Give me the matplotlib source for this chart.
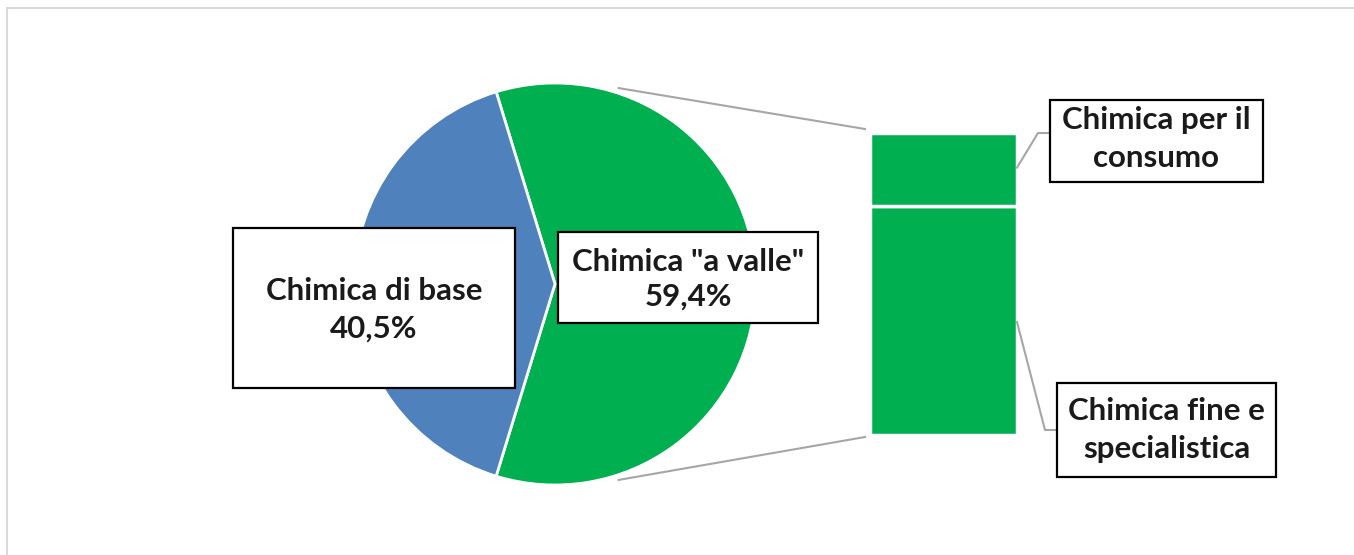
import matplotlib.pyplot as plt
from matplotlib.patches import Rectangle
import numpy as np

# pie slices (share of total, %)
pie_labels = ["Chimica \"a valle\"", "Chimica di base"]
pie_values = [59.4, 40.5]
pie_colors = ["#00B050", "#4F81BD"]

# breakdown of the "a valle" slice, stacked bottom -> top
bar_labels = ["Chimica fine e\nspecialistica", "Chimica per il\nconsumo"]
bar_values = [45.0, 14.4]
bar_color = "#00B050"

W, H = 1354, 555
FONT = "Lato"
LINE_GREY = "#A6A6A6"


def fmt_pct(v):
    return f"{v:.1f}%".replace(".", ",")


fig = plt.figure(figsize=(W / 100, H / 100), dpi=100)
ax = fig.add_axes([0, 0, 1, 1])
ax.set_xlim(0, W)
ax.set_ylim(0, H)
ax.set_aspect("equal")
ax.axis("off")

# chart area frame
ax.add_patch(Rectangle((7, -10), W + 20, H - 8 + 10, fill=False,
                       edgecolor="#D9D9D9", lw=1.5))

# pie
cx, cy, r = 555, H - 284, 201
share = pie_values[0] / sum(pie_values)
half = share * 360 / 2
ax.pie(pie_values, colors=pie_colors, center=(cx, cy), radius=r,
       startangle=-half, counterclock=True,
       wedgeprops=dict(edgecolor="white", linewidth=2))
ax.set_xlim(0, W)
ax.set_ylim(0, H)

# stacked bar on the right
bx, bw = 943.5, 147
total = sum(bar_values)
bar_bottom = H - 435
scale = (435 - 133) / total
bottoms = np.concatenate([[0], np.cumsum(bar_values)[:-1]])
ax.bar([bx] * len(bar_values), np.array(bar_values) * scale, width=bw,
       bottom=bar_bottom + bottoms * scale, color=bar_color,
       edgecolor="white", linewidth=2.5)

# series lines from the pie to the bar
bar_top = bar_bottom + total * scale
for sign, y_end in [(1, bar_top + 4), (-1, bar_bottom - 2)]:
    a = np.deg2rad(sign * 72)
    x0, y0 = cx + (r + 5) * np.cos(a), cy + (r + 5) * np.sin(a)
    ax.plot([x0, bx - bw / 2 - 5], [y0, y_end], color=LINE_GREY, lw=1.5)

# label boxes
def label_box(x0, y0, x1, y1, text, line_h=1.42, dy=0):
    ax.add_patch(Rectangle((x0, H - y1), x1 - x0, y1 - y0, facecolor="white",
                           edgecolor="black", lw=1.6, zorder=5))
    ax.text((x0 + x1) / 2, H - (y0 + y1) / 2 - dy, text, ha="center",
            va="center", fontsize=22.5, fontweight="bold", family=FONT,
            color="#1A1A1A", linespacing=line_h, zorder=6)


label_box(233, 228, 515, 388, f"{pie_labels[1]}\n{fmt_pct(pie_values[1])}",
          dy=2)
label_box(558, 232, 818, 323, f"{pie_labels[0]}\n{fmt_pct(pie_values[0])}",
          line_h=1.28, dy=2)

# leader lines from bar segments to their labels
bar_right = bx + bw / 2
seg_mid = bar_bottom + (bottoms + np.array(bar_values) / 2) * scale
ax.plot([bar_right, 1038, 1050], [seg_mid[1] + 2, H - 133, H - 133],
        color=LINE_GREY, lw=1.5)
ax.plot([bar_right, 1045, 1057], [H - 322, H - 430, H - 430],
        color=LINE_GREY, lw=1.5)

label_box(1050, 100, 1263, 182, bar_labels[1], dy=-2)
label_box(1057, 383, 1276, 477, bar_labels[0])

fig.savefig("out.png", dpi=100, facecolor="white")
